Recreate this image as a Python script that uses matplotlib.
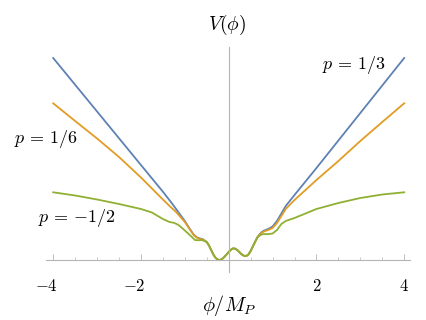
import matplotlib
matplotlib.use("Agg")
import matplotlib.pyplot as plt
import numpy as np

plt.rcParams['mathtext.fontset'] = 'cm'

# shared oscillating core near the origin
core_x = [-0.5, -0.45, -0.4, -0.35, -0.3, -0.25, -0.2, -0.15, -0.1, -0.05, 0.0, 0.05,
          0.1, 0.15, 0.2, 0.25, 0.3, 0.35, 0.4, 0.45, 0.5, 0.55, 0.6]
core_v = [0.18, 0.145, 0.10, 0.055, 0.022, 0.004, 0.0, 0.01, 0.03, 0.055, 0.08, 0.103,
          0.116, 0.113, 0.098, 0.076, 0.055, 0.042, 0.04, 0.055, 0.09, 0.135, 0.18]

# p = 1/3 (blue)
blue_left_x = [-4.0, -3.0, -2.0, -1.5, -1.3, -1.2, -1.1, -1.0, -0.9, -0.8, -0.72, -0.65, -0.58]
blue_left_v = [2.02, 1.485, 0.95, 0.683, 0.57, 0.51, 0.45, 0.39, 0.32, 0.255, 0.225, 0.215, 0.205]
blue_right_x = [0.65, 0.7, 0.75, 0.8, 0.9, 1.0, 1.1, 1.2, 1.3, 1.5, 2.0, 3.0, 4.0]
blue_right_v = [0.225, 0.255, 0.278, 0.293, 0.31, 0.335, 0.39, 0.465, 0.54, 0.65, 0.92, 1.47, 2.02]

# p = 1/6 (orange)
orange_left_x = [-4.0, -3.5, -3.0, -2.5, -2.0, -1.5, -1.3, -1.2, -1.1, -1.0, -0.9, -0.8, -0.72, -0.65, -0.58]
orange_left_v = [1.567, 1.39, 1.215, 1.03, 0.825, 0.605, 0.52, 0.48, 0.43, 0.38, 0.315, 0.25, 0.22, 0.21, 0.203]
orange_right_x = [0.65, 0.7, 0.75, 0.8, 0.9, 1.0, 1.1, 1.2, 1.3, 1.5, 2.0, 2.5, 3.0, 3.5, 4.0]
orange_right_v = [0.225, 0.252, 0.272, 0.285, 0.30, 0.32, 0.37, 0.44, 0.51, 0.60, 0.80, 0.99, 1.19, 1.38, 1.567]

# p = -1/2 (green)
green_left_x = [-4.0, -3.5, -3.0, -2.5, -2.0, -1.75, -1.5, -1.35, -1.25, -1.15, -1.05, -0.95,
                -0.85, -0.77, -0.7, -0.62, -0.55]
green_left_v = [0.677, 0.645, 0.605, 0.56, 0.51, 0.475, 0.41, 0.38, 0.372, 0.352, 0.315, 0.275,
                0.235, 0.20, 0.197, 0.20, 0.19]
green_right_x = [0.65, 0.7, 0.75, 0.8, 0.9, 1.0, 1.1, 1.2, 1.3, 1.5, 1.75, 2.0, 2.5, 3.0, 3.5, 4.0]
green_right_v = [0.222, 0.243, 0.255, 0.26, 0.258, 0.265, 0.30, 0.36, 0.39, 0.42, 0.465, 0.51,
                 0.57, 0.62, 0.655, 0.677]

labels = [r'$p\,=\,1/3$', r'$p\,=\,1/6$', r'$p\,=\,{-}1/2$']
colors = ['#5E81B5', '#E19C24', '#8FB032']
major_ticks = [-4, -2, 2, 4]
major_labels = ['$-4$', '$-2$', '$2$', '$4$']

fig = plt.figure(figsize=(4.27, 3.2), dpi=100)
ax = fig.add_axes([46/427, 48/320, 364/427, 225/320])

curves = [
    (blue_left_x, blue_left_v, blue_right_x, blue_right_v),
    (orange_left_x, orange_left_v, orange_right_x, orange_right_v),
    (green_left_x, green_left_v, green_right_x, green_right_v),
]
for (lx, lv, rx, rv), c in zip(curves, colors):
    xs = list(lx) + core_x + list(rx)
    vs = list(lv) + core_v + list(rv)
    ax.plot(xs, vs, color=c, lw=1.3, solid_joinstyle='round')

ax.set_xlim(-4.164, 4.132)
ax.set_ylim(-0.12, 2.13)

for s in ['top', 'right']:
    ax.spines[s].set_visible(False)
ax.spines['left'].set_position(('data', 0))
ax.spines['bottom'].set_position(('data', 0))
for s in ['left', 'bottom']:
    ax.spines[s].set_color('#b4b4b4')
    ax.spines[s].set_linewidth(0.8)

ax.set_yticks([])
ax.set_xticks(major_ticks)
ax.set_xticklabels([])
ax.set_xticks([v for v in np.arange(-4, 4.01, 0.5) if v not in (-4, -2, 0, 2, 4)], minor=True)
ax.tick_params(axis='x', which='major', direction='in', length=4, width=0.6,
               color='#b4b4b4')
ax.tick_params(axis='x', which='minor', direction='in', length=2.2, width=0.5,
               color='#b4b4b4')

# tick labels: digit centred on the tick, minus sign hanging to the left
for t, lab in zip(major_ticks, major_labels):
    ax.annotate(lab, xy=(t, 0), xycoords='data', xytext=(3.3, -12.5),
                textcoords='offset points', ha='right', va='top', fontsize=12)

fig.text(227/427, 1 - 25/320, r'$V(\phi)$', ha='center', va='center', fontsize=14)
fig.text(229/427, 1 - 305/320, r'$\phi/M_P$', ha='center', va='center', fontsize=14.5)
fig.text(354/427, 1 - 65/320, labels[0], ha='center', va='center', fontsize=13)
fig.text(46/427, 1 - 139/320, labels[1], ha='center', va='center', fontsize=13)
fig.text(77/427, 1 - 218/320, labels[2], ha='center', va='center', fontsize=13)

fig.savefig('out.png', dpi=100)
